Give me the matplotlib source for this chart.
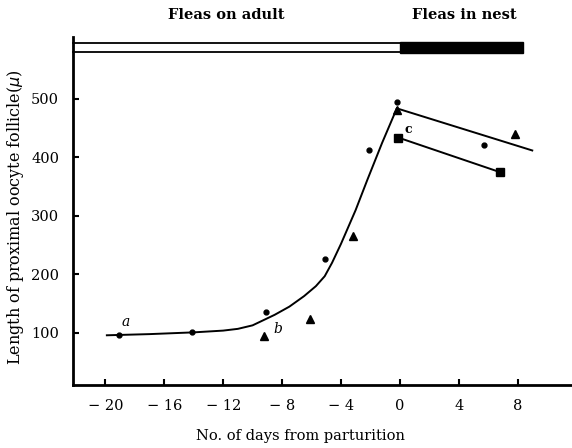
import numpy as np
import matplotlib.pyplot as plt
from matplotlib.patches import Rectangle

# values
circle_days = [-19.1, -14.1, -9.1, -5.1, -2.1, -0.2, 5.7]
circle_len = [97, 102, 135, 227, 412, 495, 421]

triangle_days = [-9.2, -6.1, -3.2, -0.2, 7.8]
triangle_len = [95, 123, 265, 481, 440]

square_days = [-0.1, 6.8]
square_len = [434, 375]

curve_days = [-19.9, -17.0, -14.0, -12.0, -11.0, -10.0, -9.5, -8.5, -7.5,
              -6.5, -5.7, -5.1, -4.6, -4.0, -3.0, -2.2, -1.2, -0.2]
curve_len = [96, 98, 101, 104, 107, 113, 119, 131, 145,
             163, 180, 197, 220, 252, 310, 362, 425, 484]

nest_days = [-0.2, 9.0]
nest_len = [484, 412]

xticks = [-20, -16, -12, -8, -4, 0, 4, 8]
xtick_labels = ["\u2212 20", "\u2212 16", "\u2212 12", "\u2212 8", "\u2212 4", "0", "4", "8"]
yticks = [100, 200, 300, 400, 500]

plt.rcParams['font.family'] = ['DejaVu Serif']

fig = plt.figure(figsize=(5.72, 4.48), dpi=100)
ax = fig.add_axes([73 / 572, 63 / 448, 499 / 572, 348 / 448])

ax.plot(curve_days, curve_len, color='black', lw=1.4)
ax.plot(nest_days, nest_len, color='black', lw=1.4)
ax.plot(square_days, square_len, color='black', lw=1.4, marker='s', ms=5.5)
ax.plot(circle_days, circle_len, 'o', color='black', ms=3.5)
ax.plot(triangle_days, triangle_len, '^', color='black', ms=5.5)

ax.text(-18.9, 112, "a", style='italic', fontsize=10)
ax.text(-8.6, 100, "b", style='italic', fontsize=10)
ax.text(0.3, 442, "c", fontsize=9, fontweight='bold')

# top bar: open before parturition, filled after
ax.plot([-22.2, 0], [596, 596], color='black', lw=1.3, clip_on=False)
ax.plot([-22.2, 0], [580, 580], color='black', lw=1.3, clip_on=False)
ax.add_patch(Rectangle((0, 579), 8.4, 18, color='black', clip_on=False))
ax.text(-11.8, 643, "Fleas on adult", ha='center', va='center', fontsize=10.5, fontweight='bold')
ax.text(4.4, 643, "Fleas in nest", ha='center', va='center', fontsize=10.5, fontweight='bold')

ax.set_xlim(-22.2, 11.7)
ax.set_ylim(11, 606)
ax.spines['top'].set_visible(False)
ax.spines['right'].set_visible(False)
ax.spines['left'].set_linewidth(2)
ax.spines['bottom'].set_linewidth(2)
ax.set_xticks(xticks)
ax.set_xticklabels(xtick_labels)
ax.set_yticks(yticks)
ax.tick_params(direction='in', length=4, width=1.5, labelsize=10.5, pad=10)

ax.set_xlabel("No. of days from parturition", fontsize=10.5)
ax.xaxis.set_label_coords(0.455, -0.125)
ax.set_ylabel("Length of proximal oocyte follicle($\\mu$)", fontsize=11.5)
ax.yaxis.set_label_coords(-0.095, 0.483)

fig.savefig("out.png", dpi=100)
